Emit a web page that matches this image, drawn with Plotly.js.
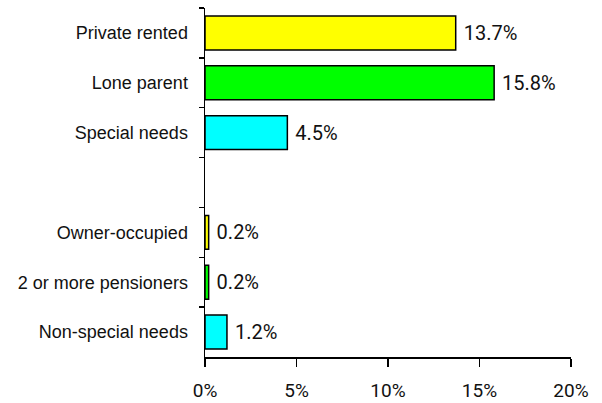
<!DOCTYPE html>
<html>
<head>
<meta charset="utf-8">
<script src="https://cdn.plot.ly/plotly-3.0.1.min.js"></script>
<style>html,body{margin:0;padding:0;background:#fff;}#chart{width:602px;height:403px;}</style>
</head>
<body>
<div id="chart"></div>
<script>
var categories = ["Private rented", "Lone parent", "Special needs", " ", "Owner-occupied", "2 or more pensioners", "Non-special needs"];
var values = [13.7, 15.8, 4.5, null, 0.2, 0.2, 1.2];
var barColors = ["#FFFF00", "#00FF00", "#00FFFF", "#FFFFFF", "#FFFF00", "#00FF00", "#00FFFF"];
var xTicks = [0, 5, 10, 15, 20];
var xTickLabels = ["0%", "5%", "10%", "15%", "20%"];

var labels = values.map(function (v) { return v === null ? "" : " " + v.toFixed(1) + "%"; });

var numFont = "Roboto, Liberation Sans Narrow, sans-serif";

var trace = {
  type: "bar",
  orientation: "h",
  y: categories,
  x: values,
  text: labels,
  textposition: "outside",
  cliponaxis: false,
  textfont: {family: numFont, size: 20, color: "#111"},
  marker: {color: barColors, line: {color: "#000", width: 1.5}},
  width: 0.68,
  hoverinfo: "none"
};

var layout = {
  width: 602,
  height: 403,
  margin: {l: 205, r: 31, t: 8, b: 46},
  paper_bgcolor: "#fff",
  plot_bgcolor: "#fff",
  showlegend: false,
  font: {family: "Liberation Sans, Arial, sans-serif", color: "#000"},
  xaxis: {
    range: [0, 20],
    tickmode: "array",
    tickvals: xTicks,
    ticktext: xTickLabels,
    ticks: "outside",
    ticklen: 8,
    tickwidth: 1.5,
    tickcolor: "#000",
    showline: true,
    linecolor: "#000",
    linewidth: 1.5,
    showgrid: false,
    zeroline: false,
    ticklabelstandoff: 8,
    tickfont: {family: numFont, size: 19, color: "#111"}
  },
  yaxis: {
    type: "category",
    categoryorder: "array",
    categoryarray: categories,
    autorange: "reversed",
    ticks: "outside",
    tickson: "boundaries",
    ticklen: 5,
    tickwidth: 1.5,
    tickcolor: "#000",
    showline: true,
    linecolor: "#000",
    linewidth: 1.5,
    showgrid: false,
    zeroline: false,
    ticklabelstandoff: 12,
    tickfont: {family: "Liberation Sans, Arial, sans-serif", size: 18, color: "#111"}
  }
};

Plotly.newPlot("chart", [trace], layout, {displayModeBar: false, staticPlot: true});
</script>
</body>
</html>
